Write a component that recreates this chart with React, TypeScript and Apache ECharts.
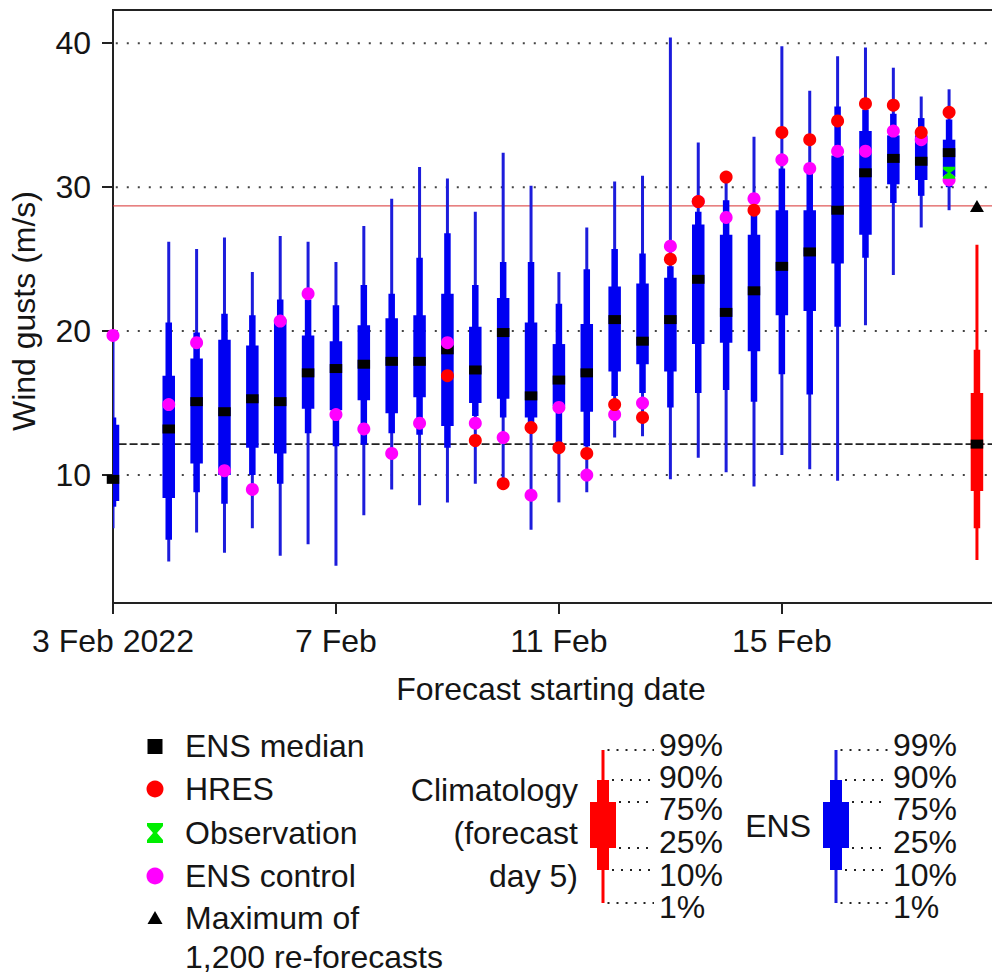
import React, { useEffect, useRef } from 'react';
import * as echarts from 'echarts';

// ---------- data ----------
const forecastStarts = [
  '2022-02-03 00', '2022-02-04 00', '2022-02-04 12', '2022-02-05 00', '2022-02-05 12',
  '2022-02-06 00', '2022-02-06 12', '2022-02-07 00', '2022-02-07 12', '2022-02-08 00',
  '2022-02-08 12', '2022-02-09 00', '2022-02-09 12', '2022-02-10 00', '2022-02-10 12',
  '2022-02-11 00', '2022-02-11 12', '2022-02-12 00', '2022-02-12 12', '2022-02-13 00',
  '2022-02-13 12', '2022-02-14 00', '2022-02-14 12', '2022-02-15 00', '2022-02-15 12',
  '2022-02-16 00', '2022-02-16 12', '2022-02-17 00', '2022-02-17 12', '2022-02-18 00',
];
const ensP1 = [6.3, 4.0, 6.0, 4.6, 6.3, 4.4, 5.2, 3.7, 7.2, 9.0, 7.9, 8.1, 9.4, 9.6, 6.2, 8.1, 8.8, 12.6, 12.7, 9.7, 11.2, 10.2, 9.2, 11.4, 10.4, 9.6, 20.4, 23.9, 27.2, 28.4];
const ensP10 = [7.8, 5.5, 8.8, 8.0, 10.0, 9.4, 12.9, 12.0, 12.1, 12.9, 12.8, 11.9, 14.1, 14.0, 13.0, 12.2, 12.0, 15.5, 15.7, 14.7, 15.7, 15.9, 15.1, 17.0, 15.6, 20.3, 25.1, 28.9, 29.4, 30.0];
const ensP25 = [8.2, 8.4, 10.8, 10.0, 11.9, 11.5, 14.6, 14.5, 15.2, 14.3, 15.4, 13.4, 15.0, 15.3, 14.0, 14.8, 14.4, 17.2, 17.7, 17.2, 19.1, 19.2, 18.6, 21.1, 21.4, 24.7, 26.7, 30.2, 30.5, 30.7];
const ensP50 = [9.7, 13.2, 15.1, 14.4, 15.3, 15.1, 17.1, 17.4, 17.7, 17.9, 17.9, 18.7, 17.3, 19.9, 15.5, 16.6, 17.1, 20.8, 19.3, 20.8, 23.6, 21.3, 22.8, 24.5, 25.5, 28.4, 31.0, 32.0, 31.8, 32.4];
const ensP75 = [13.5, 16.9, 18.1, 19.4, 19.0, 20.8, 19.7, 19.3, 20.4, 20.9, 21.1, 22.6, 20.3, 22.3, 20.6, 19.1, 20.5, 23.1, 23.3, 23.7, 27.4, 26.7, 26.7, 28.4, 28.4, 32.2, 33.9, 33.6, 33.6, 33.3];
const ensP90 = [14.0, 20.6, 19.9, 21.2, 21.1, 22.2, 22.2, 21.8, 23.2, 22.6, 25.1, 26.8, 23.2, 24.8, 24.8, 21.9, 24.3, 25.7, 25.4, 24.5, 28.3, 29.1, 28.2, 31.3, 31.0, 35.6, 35.4, 35.1, 34.8, 34.7];
const ensP99 = [19.3, 26.2, 25.7, 26.5, 24.1, 26.6, 26.2, 24.8, 27.3, 29.2, 31.4, 30.6, 28.3, 32.4, 30.1, 24.1, 27.2, 30.4, 30.8, 40.4, 33.1, 30.4, 33.5, 39.8, 36.7, 39.1, 39.7, 38.3, 36.3, 36.8];
const ensControl = [19.7, 14.9, 19.2, 10.3, 9.0, 20.7, 22.6, 14.2, 13.2, 11.5, 13.6, 19.2, 13.6, 12.6, 8.6, 14.7, 10.0, 14.2, 15.0, 25.9, 29.0, 27.9, 29.2, 31.9, 31.3, 32.5, 32.5, 33.9, 33.3, 30.5];
const hres = [null, null, null, null, null, null, null, null, null, null, null, 16.9, 12.4, 9.4, 13.3, 11.9, 11.5, 14.9, 14.0, 25.0, 29.0, 30.7, 28.4, 33.8, 33.3, 34.6, 35.8, 35.7, 33.8, 35.2];
const observationStarts = ['2022-02-18 00'];
const observationValues = [31.0];
const climatologyStart = '2022-02-18 12';
// 1%, 10%, 25%, 50%, 75%, 90%, 99%
const climatologyPercentiles = [4.1, 6.3, 8.9, 12.15, 15.7, 18.7, 26.0];
const reforecastMaxStart = '2022-02-18 12';
const reforecastMax = 28.7;

const yTicks = [10, 20, 30, 40];
const xTickDays = [0, 4, 8, 12];
const xTickLabels = ['3 Feb 2022', '7 Feb', '11 Feb', '15 Feb'];
const percentLabels = ['99%', '90%', '75%', '25%', '10%', '1%'];
const legendLabels = ['ENS median', 'HRES', 'Observation', 'ENS control', 'Maximum of', '1,200 re-forecasts'];

// ---------- helpers ----------
const ORIGIN = Date.parse('2022-02-03T00:00:00Z');
const toDay = (s: string) => (Date.parse(s.replace(' ', 'T') + ':00:00Z') - ORIGIN) / 86400000;

const FONT = "'Liberation Sans', Arial, Helvetica, sans-serif";
const TXT = '#151515';
const FS = 32;
const BLUE = '#0000f2';
const BLUE_LINE = '#1c1cdc';
const RED = '#ff0000';
const MAGENTA = '#ff00ff';
const GREEN = '#00ee00';

const BOX_W = 12.5;
const MED_W = 6.5;
const LINE_W = 3;

function boxRenderer(fill: string, lineFill: string) {
  return (params: any, api: any) => {
    const x = api.value(0);
    const p = (i: number) => api.coord([x, api.value(i)]);
    const [cx, y1] = p(1);
    const y10 = p(2)[1];
    const y25 = p(3)[1];
    const y75 = p(5)[1];
    const y90 = p(6)[1];
    const y99 = p(7)[1];
    return {
      type: 'group',
      children: [
        { type: 'rect', shape: { x: cx - LINE_W / 2, y: y99, width: LINE_W, height: y1 - y99 }, style: { fill: lineFill } },
        { type: 'rect', shape: { x: cx - MED_W / 2, y: y90, width: MED_W, height: y10 - y90 }, style: { fill } },
        { type: 'rect', shape: { x: cx - BOX_W / 2, y: y75, width: BOX_W, height: y25 - y75 }, style: { fill } },
      ],
    };
  };
}

function hLineRenderer(stroke: string, lineWidth: number, lineDash: number[] | null, x0: number, x1: number) {
  return (params: any, api: any) => {
    const v = api.value(0);
    const a = api.coord([x0, v]);
    const b = api.coord([x1, v]);
    return {
      type: 'line',
      shape: { x1: a[0], y1: a[1], x2: b[0], y2: b[1] },
      style: { stroke, lineWidth, lineDash: lineDash || undefined, fill: null },
    };
  };
}

function txt(text: string, x: number, y: number, align = 'left', extra: any = {}, lineHeight?: number) {
  return {
    type: 'text',
    x,
    y,
    ...extra,
    style: {
      text,
      fontSize: FS,
      fontFamily: FONT,
      fill: TXT,
      align,
      textAlign: align,
      verticalAlign: 'middle',
      textVerticalAlign: 'middle',
      ...(lineHeight ? { lineHeight } : {}),
    },
  };
}

function percentileLegend(cx: number, color: string, lineColor: string, labelX: number) {
  const levels = [750, 780, 802, 848, 870, 903];
  const labelYs = [745, 777, 809, 842, 875, 907];
  const halfW = [1.5, 6, 13, 13, 6, 1.5];
  const els: any[] = [
    { type: 'rect', shape: { x: cx - 1.5, y: levels[0], width: 3, height: levels[5] - levels[0] }, style: { fill: lineColor } },
    { type: 'rect', shape: { x: cx - 6, y: levels[1], width: 12, height: levels[4] - levels[1] }, style: { fill: color } },
    { type: 'rect', shape: { x: cx - 13, y: levels[2], width: 26, height: levels[3] - levels[2] }, style: { fill: color } },
  ];
  levels.forEach((ly, i) => {
    els.push({
      type: 'line',
      shape: { x1: cx + halfW[i] + 3, y1: ly, x2: labelX - 5, y2: ly },
      style: { stroke: '#222', lineWidth: 2, lineDash: [2, 7] },
    });
    els.push(txt(percentLabels[i], labelX, labelYs[i], 'left', {}, 26));
  });
  return els;
}

export default function App() {
  const ref = useRef<HTMLDivElement>(null);

  useEffect(() => {
    if (!ref.current) return;
    const chart = echarts.init(ref.current, null, { renderer: 'svg' });

    const days = forecastStarts.map(toDay);
    const xMax = 15.77;
    const yMin = 1.11;
    const yMax = 42.31;

    const ensBoxData = days.map((d, i) => [d, ensP1[i], ensP10[i], ensP25[i], ensP50[i], ensP75[i], ensP90[i], ensP99[i]]);
    const climDay = toDay(climatologyStart);
    const climBoxData = [[climDay, ...climatologyPercentiles]];
    const medianData = [...days.map((d, i) => [d, ensP50[i]]), [climDay, climatologyPercentiles[3]]];
    const controlData = days.map((d, i) => [d, ensControl[i]]);
    const hresData = days.map((d, i) => (hres[i] == null ? null : [d, hres[i]])).filter(Boolean);
    const obsData = observationStarts.map((s, i) => [toDay(s), observationValues[i]]);
    const maxData = [[toDay(reforecastMaxStart), reforecastMax]];

    const rowY = [746, 789, 833, 876, 918, 957];
    const symX = 155;

    const graphic: any[] = [
      // top frame line
      { type: 'line', shape: { x1: 112, y1: 10, x2: 992, y2: 10 }, style: { stroke: '#222', lineWidth: 2 } },
      // axis names
      txt('Wind gusts (m/s)', 24, 311, 'center', { rotation: Math.PI / 2 }),
      txt('Forecast starting date', 551, 689, 'center'),
      // legend symbols
      { type: 'rect', shape: { x: symX - 7.5, y: rowY[0] - 7, width: 15, height: 15 }, style: { fill: '#000' } },
      { type: 'circle', shape: { cx: symX, cy: rowY[1], r: 8.5 }, style: { fill: RED } },
      {
        type: 'polygon',
        shape: {
          points: [
            [symX - 8, rowY[2] - 10], [symX + 8, rowY[2] - 10], [symX + 8, rowY[2] - 7], [symX + 2, rowY[2]],
            [symX + 8, rowY[2] + 7], [symX + 8, rowY[2] + 10], [symX - 8, rowY[2] + 10], [symX - 8, rowY[2] + 7],
            [symX - 2, rowY[2]], [symX - 8, rowY[2] - 7],
          ],
        },
        style: { fill: GREEN },
      },
      { type: 'circle', shape: { cx: symX, cy: rowY[3], r: 8.5 }, style: { fill: MAGENTA } },
      {
        type: 'polygon',
        shape: { points: [[symX - 7.5, rowY[4] + 6], [symX + 7.5, rowY[4] + 6], [symX, rowY[4] - 7]] },
        style: { fill: '#000' },
      },
      ...legendLabels.map((l, i) => txt(l, 185, rowY[i], 'left', {}, 34)),
      // percentile legends
      txt('Climatology', 578, 790, 'right', {}, 34),
      txt('(forecast', 578, 833, 'right', {}, 34),
      txt('day 5)', 578, 876, 'right', {}, 34),
      ...percentileLegend(603, RED, RED, 659),
      txt('ENS', 811, 826, 'right'),
      ...percentileLegend(836, BLUE, BLUE_LINE, 893),
    ];

    chart.setOption({
      animation: false,
      backgroundColor: '#ffffff',
      textStyle: { fontFamily: FONT },
      grid: { left: 113, top: 10, width: 879, height: 593, containLabel: false },
      xAxis: {
        type: 'value',
        min: 0,
        max: xMax,
        interval: 4,
        axisLine: { show: true, onZero: false, lineStyle: { color: '#222', width: 2 } },
        axisTick: { show: true, length: 11, customValues: xTickDays, lineStyle: { color: '#222', width: 2 } },
        axisLabel: {
          customValues: xTickDays,
          margin: 22,
          fontSize: FS,
          fontFamily: FONT,
          color: TXT,
          formatter: (v: number) => {
            const i = xTickDays.indexOf(v);
            return i >= 0 ? xTickLabels[i] : '';
          },
        },
        splitLine: { show: false },
      },
      yAxis: {
        type: 'value',
        min: yMin,
        max: yMax,
        axisLine: { show: true, onZero: false, lineStyle: { color: '#222', width: 2 } },
        axisTick: { show: true, length: 11, customValues: yTicks, lineStyle: { color: '#222', width: 2 } },
        axisLabel: {
          customValues: yTicks,
          margin: 22,
          fontSize: FS,
          fontFamily: FONT,
          color: TXT,
          formatter: (v: number) => (yTicks.includes(v) ? String(v) : ''),
        },
        splitLine: { show: false },
      },
      graphic,
      series: [
        {
          name: 'grid',
          type: 'custom',
          z: 1,
          silent: true,
          data: yTicks.map((v) => [v]),
          encode: { y: 0 },
          renderItem: hLineRenderer('#444', 2, [2, 9], 0.05, xMax),
        },
        {
          name: 'climatology median line',
          type: 'custom',
          z: 1,
          silent: true,
          data: [[climatologyPercentiles[3]]],
          encode: { y: 0 },
          renderItem: hLineRenderer('#222', 1.8, [8, 3], 0.1, xMax),
        },
        {
          name: 'max line',
          type: 'custom',
          z: 1,
          silent: true,
          data: [[reforecastMax]],
          encode: { y: 0 },
          renderItem: hLineRenderer('#d83030', 1, null, 0, xMax),
        },
        {
          name: 'ENS',
          type: 'custom',
          z: 2,
          clip: true,
          data: ensBoxData,
          encode: { x: 0, y: [1, 2, 3, 4, 5, 6, 7] },
          renderItem: boxRenderer(BLUE, BLUE_LINE),
        },
        {
          name: 'Climatology',
          type: 'custom',
          z: 2,
          data: climBoxData,
          encode: { x: 0, y: [1, 2, 3, 4, 5, 6, 7] },
          renderItem: boxRenderer(RED, RED),
        },
        {
          name: 'ENS median',
          type: 'scatter',
          z: 3,
          clip: false,
          symbol: 'rect',
          symbolSize: [BOX_W, 9],
          itemStyle: { color: '#000', opacity: 1 },
          data: medianData,
        },
        {
          name: 'ENS control',
          type: 'scatter',
          z: 4,
          clip: false,
          symbol: 'circle',
          symbolSize: 13,
          itemStyle: { color: MAGENTA, opacity: 1 },
          data: controlData,
        },
        {
          name: 'HRES',
          type: 'scatter',
          z: 5,
          clip: false,
          symbol: 'circle',
          symbolSize: 13,
          itemStyle: { color: RED, opacity: 1 },
          data: hresData,
        },
        {
          name: 'Observation',
          type: 'scatter',
          z: 6,
          clip: false,
          symbol: 'path://M0,0L10,0L10,2L6,5L10,8L10,10L0,10L0,8L4,5L0,2Z',
          symbolSize: [12, 12],
          itemStyle: { color: GREEN, opacity: 1 },
          data: obsData,
        },
        {
          name: 'Maximum of 1,200 re-forecasts',
          type: 'scatter',
          z: 6,
          clip: false,
          symbol: 'triangle',
          symbolSize: [14, 12],
          itemStyle: { color: '#000', opacity: 1 },
          data: maxData,
        },
      ],
    });

    return () => chart.dispose();
  }, []);

  return (
    <div
      ref={ref}
      style={{ position: 'fixed', left: 0, top: 0, width: 992, height: 976, background: '#fff' }}
    />
  );
}
